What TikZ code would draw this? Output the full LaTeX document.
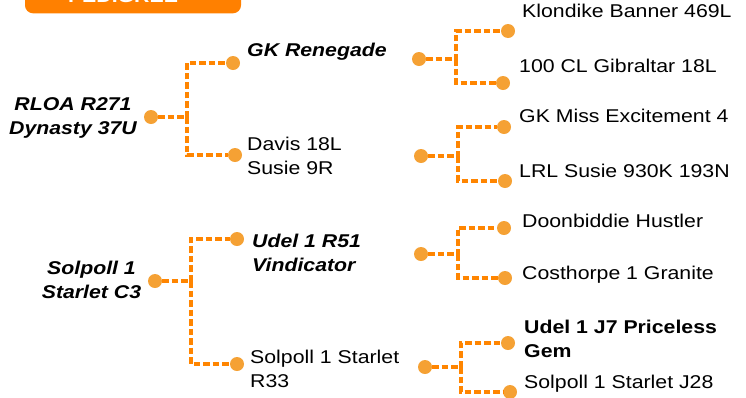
\documentclass[tikz,border=0pt]{standalone}
\usepackage{fontspec}
\setmainfont{Liberation Sans}[FakeStretch=1.15]
\definecolor{lineor}{HTML}{FF8500}
\definecolor{dotor}{HTML}{F5A134}
\definecolor{banor}{HTML}{FF8000}
\newcommand\twoL[2]{\vtop{\hbox{#1}\hbox{#2}}}
\newcommand\twoC[2]{\vtop{\halign{\hfil##\hfil\cr #1\cr #2\cr}}}
\begin{document}
\begin{tikzpicture}[x=1pt,y=-1pt,
  dot/.style={circle,fill=dotor,minimum size=14pt,inner sep=0pt},
  conn/.style={draw=lineor,line width=3.2pt,dash pattern=on 6.5pt off 3pt},
  txt/.style={inner sep=0pt,anchor=base west,font=\fontsize{18.5}{24}\selectfont},
  ctxt/.style={txt,anchor=base},
  bi/.style={font=\fontsize{18.5}{24}\selectfont\bfseries\itshape},
  bd/.style={font=\fontsize{18.5}{24}\selectfont\bfseries}]
\useasboundingbox (0,0) rectangle (746,397);
% banner
\fill[banor,rounded corners=8pt] (25,-20) rectangle (241,13.3);
\node[txt,anchor=base,text=white,bd] (ban) at (123,2) {PEDIGREE};
% joints
\coordinate (j1) at (187,117);
\coordinate (k1) at (456,59);
\coordinate (k2) at (458,156);
\coordinate (j2) at (191,281);
\coordinate (k3) at (458,254);
\coordinate (k4) at (461,367);
% dots
\node[dot] (r1) at (151,117) {};
\node[dot] (a1) at (233,63) {};
\node[dot] (a2) at (235,155) {};
\node[dot] (a1r) at (419,59) {};
\node[dot] (g1) at (508,31) {};
\node[dot] (g2) at (503,83) {};
\node[dot] (a2r) at (421,156) {};
\node[dot] (g3) at (504,127) {};
\node[dot] (g4) at (505,181) {};
\node[dot] (r2) at (155,281) {};
\node[dot] (b1) at (237,239) {};
\node[dot] (b2) at (237,364) {};
\node[dot] (b1r) at (421,254) {};
\node[dot] (g5) at (504,228) {};
\node[dot] (g6) at (505,278) {};
\node[dot] (b2r) at (425,367) {};
\node[dot] (g7) at (508,343) {};
\node[dot] (g8) at (510,392) {};
% connectors
\draw[conn] (r1) -- (j1) |- (a1); \draw[conn] (j1) |- (a2);
\draw[conn] (a1r) -- (k1) |- (g1); \draw[conn] (k1) |- (g2);
\draw[conn] (a2r) -- (k2) |- (g3); \draw[conn] (k2) |- (g4);
\draw[conn] (r2) -- (j2) |- (b1); \draw[conn] (j2) |- (b2);
\draw[conn] (b1r) -- (k3) |- (g5); \draw[conn] (k3) |- (g6);
\draw[conn] (b2r) -- (k4) |- (g7); \draw[conn] (k4) |- (g8);
% texts
\node[ctxt,bi] (t1) at (73,110) {\twoC{RLOA R271}{Dynasty 37U}};
\node[txt,bi] (t2) at (247,56) {GK Renegade};
\node[txt] (t3) at (247,150) {\twoL{Davis 18L}{Susie 9R}};
\node[txt] (t4) at (522,17) {Klondike Banner 469L};
\node[txt] (t5) at (519,72) {100 CL Gibraltar 18L};
\node[txt] (t6) at (519,122) {GK Miss Excitement 4};
\node[txt] (t7) at (519,177) {LRL Susie 930K 193N};
\node[ctxt,bi] (t8) at (91.5,274) {\twoC{Solpoll 1}{Starlet C3}};
\node[txt,bi] (t9) at (252,247) {\twoL{Udel 1 R51}{Vindicator}};
\node[txt] (t10) at (250,363) {\twoL{Solpoll 1 Starlet}{R33}};
\node[txt] (t11) at (522,227) {Doonbiddie Hustler};
\node[txt] (t12) at (522,279) {Costhorpe 1 Granite};
\node[txt,bd] (t13) at (524,333) {\twoL{Udel 1 J7 Priceless}{Gem}};
\node[txt] (t14) at (524,388) {Solpoll 1 Starlet J28};
\end{tikzpicture}
\end{document}
